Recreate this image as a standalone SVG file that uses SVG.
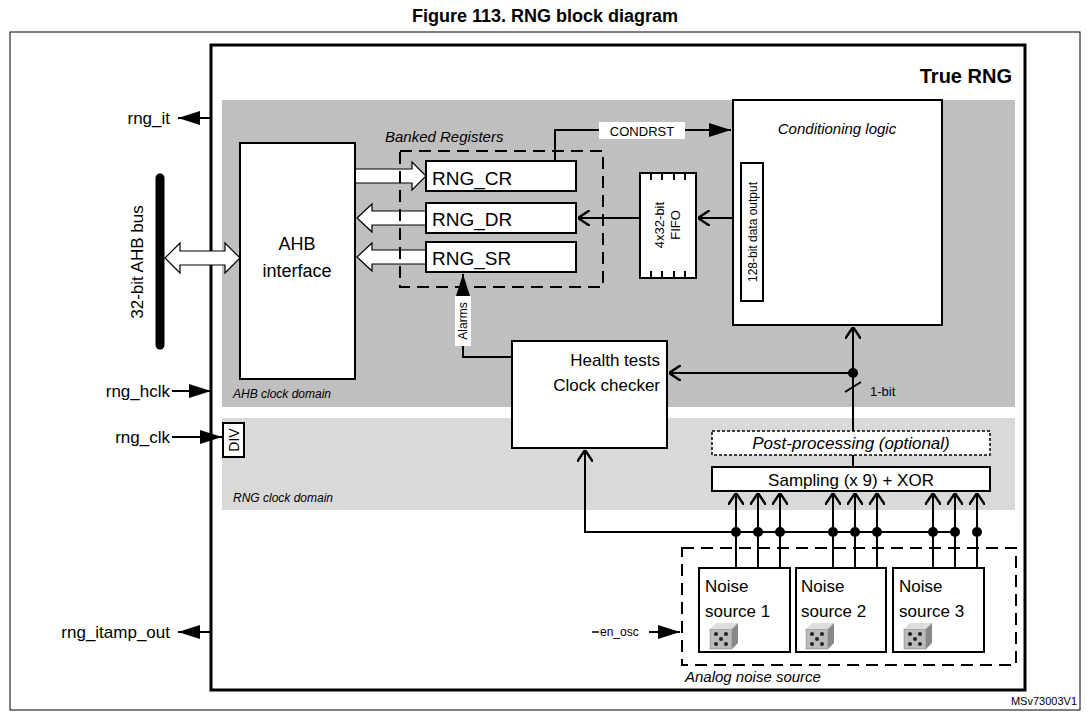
<svg xmlns="http://www.w3.org/2000/svg" width="1089" height="719" viewBox="0 0 1089 719">
<style>
text{font-family:"Liberation Sans",Arial,sans-serif;fill:#000}
.b{fill:#fff;stroke:#000;stroke-width:2}
.l{fill:none;stroke:#000;stroke-width:2}
.it{font-style:italic}
.hol{fill:#fff;stroke:#000;stroke-width:1.2}
</style>
<defs>
<marker id="fa2" viewBox="0 0 10 10" refX="10" refY="5" markerWidth="22" markerHeight="14" orient="auto" markerUnits="userSpaceOnUse" preserveAspectRatio="none"><path d="M0,0L10,5L0,10z" fill="#000"/></marker>
<marker id="oa" viewBox="0 0 10 10" refX="10" refY="5" markerWidth="12" markerHeight="16" orient="auto" markerUnits="userSpaceOnUse" preserveAspectRatio="none"><path d="M0,0L10,5L0,10" fill="none" stroke="#000" stroke-width="1.6"/></marker>
<g id="die"><rect x="0" y="4" width="22" height="20" fill="#bbb" stroke="#777" stroke-width="0.5"/><path d="M0,4L6,-2H28L22,4z" fill="#ddd"/><path d="M22,4L28,-2V18L22,24z" fill="#888"/><g fill="#222"><circle cx="6" cy="9" r="2"/><circle cx="16" cy="19" r="2"/><circle cx="11" cy="14" r="2"/><circle cx="6" cy="19" r="2"/><circle cx="16" cy="9" r="2"/></g></g>
</defs>
<text x="545" y="22" font-size="18" font-weight="bold" text-anchor="middle">Figure 113. RNG block diagram</text>
<rect x="10" y="32" width="1070" height="678" fill="none" stroke="#000" stroke-width="1"/>
<text x="1077" y="705" font-size="11" text-anchor="end">MSv73003V1</text>
<rect x="211" y="45" width="814" height="645" fill="#fff" stroke="#000" stroke-width="3"/>
<rect x="222" y="100" width="793" height="307" fill="#bfbfbf"/>
<rect x="222" y="418" width="793" height="92" fill="#d9d9d9"/>
<text x="1012" y="83" font-size="20" font-weight="bold" text-anchor="end">True RNG</text>
<text x="233" y="398" font-size="12" class="it">AHB clock domain</text>
<text x="233" y="502" font-size="12" class="it">RNG clock domain</text>
<text x="385" y="142" font-size="15" class="it">Banked Registers</text>
<text x="685" y="682" font-size="15" class="it">Analog noise source</text>

<g id="connectors">
<line x1="211" y1="118" x2="178" y2="118" class="l" marker-end="url(#fa2)"/>
<text x="170" y="124" font-size="17" text-anchor="end">rng_it</text>
<line x1="172" y1="391" x2="211" y2="391" class="l" marker-end="url(#fa2)"/>
<text x="170" y="397" font-size="17" text-anchor="end">rng_hclk</text>
<line x1="172" y1="437" x2="222" y2="437" class="l" marker-end="url(#fa2)"/>
<text x="170" y="443" font-size="17" text-anchor="end">rng_clk</text>
<line x1="211" y1="632" x2="178" y2="632" class="l" marker-end="url(#fa2)"/>
<text x="170" y="638" font-size="17" text-anchor="end">rng_itamp_out</text>
<line x1="160" y1="178" x2="160" y2="345" stroke="#000" stroke-width="9" stroke-linecap="round"/>
<text transform="translate(143,262) rotate(-90)" font-size="17" text-anchor="middle">32-bit AHB bus</text>
<path class="hol" d="M165,258L180,243V251H225V243L240,258L225,273V265H180V273z"/>
<path class="hol" d="M355,169H412V162L426,176L412,190V183H355z"/>
<path class="hol" d="M426,211H372V204L357,218L372,232V225H426"/>
<path class="hol" d="M426,250H372V243L357,257L372,271V264H426"/>
<polyline points="555,161 555,130 731,130" class="l" marker-end="url(#fa2)"/>
<rect x="599" y="122" width="86" height="17" fill="#fff"/>
<text x="642" y="136" font-size="13" text-anchor="middle">CONDRST</text>
<line x1="733" y1="218" x2="698" y2="218" class="l" stroke-width="3" marker-end="url(#oa)"/>
<line x1="640" y1="218" x2="578" y2="218" class="l" stroke-width="3" marker-end="url(#oa)"/>
<polyline points="512,357 463,357 463,274" class="l" marker-end="url(#fa2)"/>
<rect x="455" y="296" width="16" height="50" fill="#fff"/>
<text transform="translate(467,321) rotate(-90)" font-size="12" text-anchor="middle">Alarms</text>
<line x1="853" y1="431" x2="853" y2="327" class="l" marker-end="url(#oa)"/>
<line x1="853" y1="373" x2="669" y2="373" class="l" marker-end="url(#oa)"/>
<circle cx="853" cy="373" r="5"/>
<line x1="845" y1="392" x2="861" y2="382" class="l"/>
<text x="870" y="396" font-size="13">1-bit</text>
<line x1="853" y1="455" x2="853" y2="467" class="l"/>
<polyline points="957,532 585,532 585,450" class="l" marker-end="url(#oa)"/>
<g class="l">
<line x1="736" y1="568" x2="736" y2="493" marker-end="url(#oa)"/>
<line x1="758" y1="568" x2="758" y2="493" marker-end="url(#oa)"/>
<line x1="780" y1="568" x2="780" y2="493" marker-end="url(#oa)"/>
<line x1="833" y1="568" x2="833" y2="493" marker-end="url(#oa)"/>
<line x1="855" y1="568" x2="855" y2="493" marker-end="url(#oa)"/>
<line x1="877" y1="568" x2="877" y2="493" marker-end="url(#oa)"/>
<line x1="933" y1="568" x2="933" y2="493" marker-end="url(#oa)"/>
<line x1="955" y1="568" x2="955" y2="493" marker-end="url(#oa)"/>
<line x1="977" y1="568" x2="977" y2="493" marker-end="url(#oa)"/>
</g>
<g>
<circle cx="736" cy="532" r="5"/><circle cx="758" cy="532" r="5"/><circle cx="780" cy="532" r="5"/>
<circle cx="833" cy="532" r="5"/><circle cx="855" cy="532" r="5"/><circle cx="877" cy="532" r="5"/>
<circle cx="933" cy="532" r="5"/><circle cx="955" cy="532" r="5"/><circle cx="977" cy="532" r="5"/>
</g>
<line x1="592" y1="632" x2="599" y2="632" stroke="#000" stroke-width="1.5"/>
<line x1="649" y1="632" x2="680" y2="632" class="l" marker-end="url(#fa2)"/>
<text x="600" y="636" font-size="12">en_osc</text>
</g>

<g id="ahb"><rect x="240" y="143" width="115" height="236" class="b"/>
<text x="297" y="250" font-size="18" text-anchor="middle">AHB</text>
<text x="297" y="277" font-size="18" text-anchor="middle">interface</text></g>
<g id="banked"><rect x="400" y="151" width="203" height="136" fill="none" stroke="#000" stroke-width="2" stroke-dasharray="12 7"/></g>
<g id="cr"><rect x="426" y="161" width="150" height="30" class="b"/><text x="432" y="185" font-size="19">RNG_CR</text></g>
<g id="dr"><rect x="426" y="203" width="150" height="30" class="b"/><text x="432" y="226" font-size="19">RNG_DR</text></g>
<g id="sr"><rect x="426" y="242" width="150" height="30" class="b"/><text x="432" y="265" font-size="19">RNG_SR</text></g>
<g id="fifo"><rect x="640" y="173" width="56" height="105" class="b"/>
<path d="M651,173v7M662,173v7M674,173v7M685,173v7M651,278v-7M662,278v-7M674,278v-7M685,278v-7" stroke="#000" stroke-width="2"/>
<text transform="translate(664,225) rotate(-90)" font-size="13" text-anchor="middle">4x32-bit</text>
<text transform="translate(680,225) rotate(-90)" font-size="13" text-anchor="middle">FIFO</text></g>
<g id="cond"><rect x="733" y="100" width="209" height="225" class="b"/>
<text x="837" y="134" font-size="15" class="it" text-anchor="middle">Conditioning logic</text>
<rect x="741" y="163" width="22" height="138" class="b"/>
<text transform="translate(757,232) rotate(-90)" font-size="12" text-anchor="middle">128-bit data output</text></g>
<g id="health"><rect x="512" y="341" width="155" height="107" class="b"/>
<text x="660" y="366" font-size="17" text-anchor="end">Health tests</text>
<text x="660" y="391" font-size="17" text-anchor="end">Clock checker</text></g>
<g id="div"><rect x="223" y="423" width="21" height="34" class="b"/>
<text transform="translate(239,440) rotate(-90)" font-size="14" text-anchor="middle">DIV</text></g>
<g id="post"><rect x="712" y="431" width="278" height="24" fill="#fff" stroke="#000" stroke-width="1.5" stroke-dasharray="3 2"/>
<text x="851" y="449" font-size="17" class="it" text-anchor="middle">Post-processing (optional)</text></g>
<g id="sampling"><rect x="712" y="467" width="278" height="24" class="b"/>
<text x="851" y="486" font-size="17" text-anchor="middle">Sampling (x 9) + XOR</text></g>
<g id="analog"><rect x="682" y="548" width="334" height="117" fill="none" stroke="#000" stroke-width="2" stroke-dasharray="12 7"/></g>
<g id="ns1"><rect x="699" y="568" width="91" height="84" class="b"/>
<text x="705" y="592" font-size="17">Noise</text><text x="705" y="617" font-size="17">source 1</text><use href="#die" x="710" y="625"/></g>
<g id="ns2"><rect x="796" y="568" width="90" height="84" class="b"/>
<text x="801" y="592" font-size="17">Noise</text><text x="801" y="617" font-size="17">source 2</text><use href="#die" x="806" y="625"/></g>
<g id="ns3"><rect x="893" y="568" width="91" height="84" class="b"/>
<text x="899" y="592" font-size="17">Noise</text><text x="899" y="617" font-size="17">source 3</text><use href="#die" x="904" y="625"/></g>
</svg>
